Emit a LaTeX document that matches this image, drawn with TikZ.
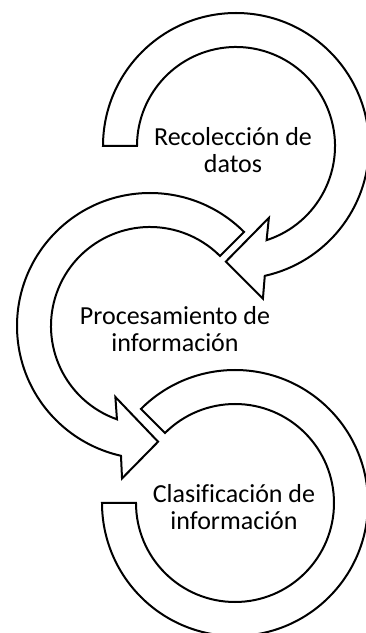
\documentclass[tikz,border=0pt]{standalone}
\usepackage{fontspec}
\setmainfont{Carlito}[Ligatures = CommonOff]
\usetikzlibrary{calc}
\tikzset{>=latex}
\tikzset{band/.style = {draw = black, fill = white, line width = 2, line join = miter}}
\tikzset{lbl/.style = {align = center, font = \fontsize{26}{27}\selectfont, inner sep = 0}}

\begin{document}
\begin{tikzpicture}[x = 1pt, y = 1pt]
\useasboundingbox (0, 0) rectangle (365, 633);
\coordinate (c1) at (236, 487);
\coordinate (c2) at (150, 307);
\coordinate (c3) at (235, 130);
% upper arrow
\draw [band] ($(c1) + (180:133)$) arc [start angle = 180, end angle = -77.5, radius = 133]
  -- ($(c1) + (-80:155)$) -- ($(c1) + (-95:116)$) -- ($(c1) + (-65.4:79)$)
  -- ($(c1) + (-72:99)$) arc [start angle = -72, end angle = 180, radius = 99] -- cycle;
% middle arrow
\draw [band] ($(c2) + (45:133)$) arc [start angle = 45, end angle = 257.4, radius = 133]
  -- ($(c2) + (259.6:155)$) -- ($(c2) + (274:116)$) -- ($(c2) + (244:79)$)
  -- ($(c2) + (250.5:99)$) arc [start angle = 250.5, end angle = 45, radius = 99] -- cycle;
% lower ring
\draw [band] ($(c3) + (135:133)$) arc [start angle = 135, end angle = -180, radius = 133]
  -- ($(c3) + (180:99)$) arc [start angle = -180, end angle = 135, radius = 99] -- cycle;
\node [lbl] (collect) at (233, 483) {Recolección de\\datos};
\node [lbl] (process) at (175, 304) {Procesamiento de\\información};
\node [lbl] (sort) at (234, 126) {Clasificación de\\información};
\end{tikzpicture}
\end{document}
